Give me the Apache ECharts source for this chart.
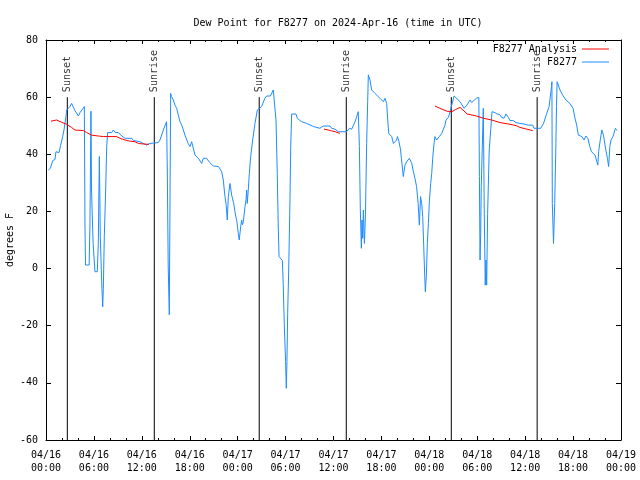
<!DOCTYPE html>
<html>
<head>
<meta charset="utf-8">
<script src="https://cdn.jsdelivr.net/npm/echarts@6/dist/echarts.min.js"></script>
<style>html,body{margin:0;padding:0;background:#fff}#c{width:640px;height:480px}</style>
</head>
<body>
<div id="c"></div>
<script>
// Hours since 2024-04-16 00:00 UTC
const obsHours = [0.29,0.55,0.63,0.84,1.13,1.25,1.42,1.63,1.84,2.09,2.25,2.5,2.59,2.8,3.0,3.21,3.42,3.63,3.84,4.05,4.26,4.6,4.8,4.88,4.95,5.4,5.5,5.63,5.7,5.9,6.13,6.42,6.55,6.68,6.72,6.8,6.97,7.1,7.18,7.3,7.47,7.6,7.72,8.22,8.43,8.64,9.06,9.48,9.9,10.73,10.94,11.77,11.98,12.6,12.8,13.0,14.06,14.27,14.69,15.1,15.19,15.3,15.44,15.61,15.73,15.94,16.15,16.36,16.57,16.78,16.99,17.2,17.4,17.6,17.8,18.03,18.24,18.45,18.66,19.08,19.49,19.7,20.1,20.5,20.95,21.6,22.0,22.2,22.41,22.54,22.7,22.83,23.04,23.25,23.37,23.5,23.66,23.9,24.08,24.2,24.38,24.5,24.6,24.71,24.92,25.04,25.13,25.2,25.33,25.46,25.63,25.88,26.17,26.46,26.7,27.0,27.4,27.63,28.1,28.46,28.67,28.8,28.96,29.09,29.18,29.6,29.7,29.84,30.0,30.09,30.17,30.26,30.39,30.55,30.64,30.76,31.3,31.47,32.0,32.65,33.5,34.3,34.7,35.56,35.77,36.2,36.6,37.65,38.0,38.28,38.7,39.1,39.24,39.36,39.49,39.57,39.66,39.74,39.87,40.0,40.15,40.28,40.36,40.57,40.78,41.2,41.82,42.04,42.24,42.45,42.66,42.79,42.92,43.08,43.29,43.5,43.9,44.0,44.2,44.4,44.5,44.74,44.95,45.16,45.5,45.8,46.0,46.2,46.4,46.6,46.75,46.9,47.04,47.17,47.3,47.42,47.5,47.63,47.75,47.88,48.0,48.17,48.3,48.42,48.59,48.7,48.92,49.25,49.55,49.96,50.09,50.38,50.6,50.8,51.1,51.35,51.85,52.35,52.7,53.1,53.3,53.64,53.9,54.2,54.27,54.35,54.43,54.5,54.76,54.88,55.0,55.09,55.18,55.3,55.5,55.7,55.85,56.2,56.5,56.85,57.05,57.35,57.6,57.9,58.1,58.5,58.85,59.35,59.85,60.4,60.95,61.1,61.95,62.3,62.7,63.0,63.2,63.3,63.35,63.4,63.55,63.7,63.85,63.92,64.0,64.2,64.36,64.7,65.1,65.6,66.0,66.24,66.45,66.66,67.1,67.37,67.6,67.85,68.1,68.3,68.5,68.75,68.95,69.1,69.2,69.4,69.6,69.8,70.1,70.3,70.45,70.6,70.75,71.0,71.3,71.5,71.55];
const obsDew = [34.5,35.1,34.5,37.8,38.2,40.9,40.3,40.6,43.2,46.2,48.5,53.2,55.5,56.1,56.7,57.8,58.1,55.3,54.6,53.4,54.6,55.9,56.7,14.9,1.25,1.25,14.6,55.1,27.5,8.8,-1.1,-1.1,8.8,39.2,30.4,11.2,-4.6,-13.4,-6.9,11.2,27.5,42.7,47.6,47.6,48.5,47.7,47.6,46.4,45.6,45.6,44.8,44.4,43.8,43.2,42.9,43.8,44.1,45.0,48.5,51.4,34.5,1.25,-16.2,61.3,60.2,59.0,57.2,56.1,53.7,51.4,50.2,48.5,46.7,46.2,43.8,42.7,44.4,44.6,39.7,38.6,36.8,38.6,38.6,37.1,35.9,35.7,33.9,31.0,25.2,22.8,17.0,25.2,29.8,25.7,26.3,22.8,19.9,16.4,12.3,10.0,14.7,17.0,15.3,16.4,21.7,24,27.5,22.8,27.5,33.3,39.2,45,50.8,55.5,56.1,56.7,59.6,60.4,60.4,62.5,61.9,52.0,33.3,13.5,4.2,2.8,-5.2,-19.8,-32.6,-41.9,-32.6,-15.7,-0.5,24,42.1,54.1,54.1,52.6,51.4,50.8,49.7,49.1,49.9,49.9,49.1,48.8,47.9,47.9,49.1,48.8,51.4,54.9,42.7,20.5,7.1,17,10.6,20.5,8.8,18.8,43.8,58.4,67.8,66.0,62.5,61.3,59.6,59.2,58.4,59.6,57.8,52,47.3,46.7,46.2,43.8,45,46.2,44.4,41.5,38.6,32.2,36.2,37.4,38.6,36.8,33.9,31.6,28.7,22.8,15.2,25.2,22.8,18.2,7.7,-2.3,-8.1,-2.3,8.8,15.8,23.4,29.8,33.3,38.6,43.8,46.2,45,46.2,47.3,50.2,52,52.9,54.9,57.2,60.4,60.7,58.4,56.1,57.2,59.0,58.1,59.0,59.6,59.9,32.2,3.0,12.3,28.7,56.1,19.3,-5.8,3,-5.8,19.3,41.5,49.1,54.9,54.6,54.1,53.8,52.9,52.6,54.1,52.9,51.8,51.8,51.1,50.8,50.6,50.2,50.2,49.1,49.1,50.8,54.3,56.7,57.2,63.7,65.4,22.8,8.8,22.8,43.8,56.7,65.4,65.1,62.5,60.7,59.0,57.8,56.1,52.6,50.2,46.7,46.2,45,46.4,45.6,42.7,40.9,41.5,39.7,39.2,36.2,40.9,45,48.5,46.7,41.5,38.6,35.7,42.7,45,46.2,49.1,48.3,48.5];
const anaHours = [0.63,1.33,1.96,2.59,3.2,3.63,4.67,5.1,5.72,6.55,7.18,8.85,9.27,9.9,10.5,11.14,11.56,12.2,12.9,null,34.8,35.35,35.77,36.2,36.8,null,48.7,49.3,50.2,50.8,51.3,51.85,52.75,53.9,54.8,55.8,56.85,58.1,58.9,59.35,60.2,60.95];
const anaDew = [51.6,52.0,51.2,50.5,49.4,48.5,48.3,47.6,46.7,46.4,46.2,46.2,45.6,45.0,44.6,44.4,43.8,43.6,43.5,null,48.8,48.5,48.2,47.9,47.3,null,56.9,56.1,55.1,54.9,55.7,56.4,54.1,53.4,52.6,52.0,51.1,50.5,50.0,49.4,48.8,48.3];
const sunsetHours = [2.67, 26.7, 50.75];
const sunriseHours = [13.56, 37.6, 61.5];
const xTickLabels = ['04/16\n00:00','04/16\n06:00','04/16\n12:00','04/16\n18:00','04/17\n00:00','04/17\n06:00','04/17\n12:00','04/17\n18:00','04/18\n00:00','04/18\n06:00','04/18\n12:00','04/18\n18:00','04/19\n00:00'];
const yMin = -60, yMax = 80, yStep = 20;
const markerTop = 60;

const FONT = 'DejaVu Sans Mono';
const obsData = obsHours.map((h, i) => [h, obsDew[i]]);
const anaData = anaHours.map((h, i) => h === null ? [null, null] : [h, anaDew[i]]);

const series = [];
function addMarker(h, text) {
  series.push({
    type: 'line', data: [[h, yMin], [h, markerTop]], showSymbol: false, silent: true,
    lineStyle: { color: '#000', width: 1 }, z: 1
  });
  series.push({
    type: 'scatter', data: [[h, markerTop]], symbolSize: 0, silent: true,
    label: { show: true, formatter: text, position: 'top', distance: 5, rotate: 90,
      align: 'left', verticalAlign: 'middle', color: '#000', fontFamily: FONT, fontSize: 10 }
  });
}
sunsetHours.forEach(h => addMarker(h, 'Sunset'));
sunriseHours.forEach(h => addMarker(h, 'Sunrise'));
series.push({
  name: 'F8277 Analysis', type: 'line', data: anaData, showSymbol: false, connectNulls: false,
  lineStyle: { color: '#ff0000', width: 1 }, itemStyle: { color: '#ff0000' }, z: 3
});
series.push({
  name: 'F8277', type: 'line', data: obsData, showSymbol: false,
  lineStyle: { color: '#1e8cff', width: 1 }, itemStyle: { color: '#1e8cff' }, z: 2
});

const axisLine = { show: true, onZero: false, lineStyle: { color: '#000', width: 1 } };
const chart = echarts.init(document.getElementById('c'), null, { renderer: 'canvas' });
chart.setOption({
  animation: false,
  backgroundColor: '#fff',
  title: { text: 'Dew Point for F8277 on 2024-Apr-16 (time in UTC)', left: 333, top: 13, textAlign: 'center',
    textStyle: { fontFamily: FONT, fontSize: 10, fontWeight: 'normal', color: '#000' } },
  legend: [
    { data: ['F8277 Analysis'], right: 31, top: 44, padding: 0, align: 'right', icon: 'rect', itemWidth: 27, itemHeight: 1,
      textStyle: { fontFamily: FONT, fontSize: 10, color: '#000' } },
    { data: ['F8277'], right: 31, top: 57, padding: 0, align: 'right', icon: 'rect', itemWidth: 27, itemHeight: 1,
      textStyle: { fontFamily: FONT, fontSize: 10, color: '#000' } }
  ],
  grid: { left: 46, right: 19, top: 40, bottom: 40, containLabel: false, outerBoundsMode: 'none' },
  xAxis: [
    { type: 'value', min: 0, max: 72, interval: 6, position: 'bottom', axisLine,
      axisTick: { inside: true, length: 4, lineStyle: { color: '#000' } },
      minorTick: { show: true, splitNumber: 3, length: 2, lineStyle: { color: '#000' } },
      splitLine: { show: false },
      axisLabel: { fontFamily: FONT, fontSize: 10, color: '#000', lineHeight: 13, margin: 9,
        formatter: v => xTickLabels[Math.round(v / 6)] } },
    { type: 'value', min: 0, max: 72, interval: 6, position: 'top', axisLine,
      axisTick: { inside: true, length: 4, lineStyle: { color: '#000' } },
      minorTick: { show: true, splitNumber: 3, length: 2, lineStyle: { color: '#000' } },
      splitLine: { show: false }, axisLabel: { show: false } }
  ],
  yAxis: [
    { type: 'value', min: yMin, max: yMax, interval: yStep, position: 'left', axisLine,
      axisTick: { inside: true, length: 5, lineStyle: { color: '#000' } },
      splitLine: { show: false },
      axisLabel: { fontFamily: FONT, fontSize: 10, color: '#000', margin: 8 },
      name: 'degrees F', nameLocation: 'middle', nameGap: 31, nameRotate: 90, nameMoveOverlap: false,
      nameTextStyle: { fontFamily: FONT, fontSize: 10, color: '#000' } },
    { type: 'value', min: yMin, max: yMax, interval: yStep, position: 'right', axisLine,
      axisTick: { inside: true, length: 5, lineStyle: { color: '#000' } },
      splitLine: { show: false }, axisLabel: { show: false } }
  ],
  series
});
</script>
</body>
</html>
